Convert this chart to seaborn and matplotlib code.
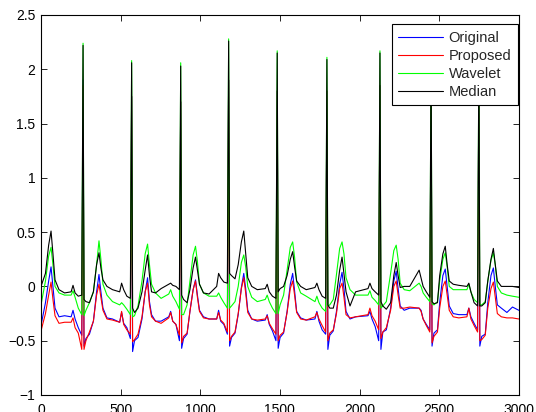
import matplotlib
matplotlib.use("Agg")
import matplotlib.pyplot as plt
import numpy as np
import pandas as pd
import seaborn as sns

# R-peak and T-peak sample positions of the complete beats
R_POS = [264, 569, 877, 1178, 1483, 1795, 2128, 2449, 2749]
T_POS = [364, 669, 970, 1273, 1580, 1890, 2230, 2538, 2840]

# key sample positions of the partial beat at the start and of the end segment
HEAD_X = [0, 28, 48, 63, 75, 88, 113, 148]
TAIL_X = [2960, 3000]

# key-point offsets inside one beat (relative to R, then relative to T)
R_OFFSETS = [-75, -63, -50, -30, -8, 0, 6, 18, 40]
T_OFFSETS = [-35, -15, 0, 12, 25, 50, 85]

SERIES = ["Original", "Proposed", "Wavelet", "Median"]
COLORS = ["#0000ff", "#ff0000", "#00ff00", "#000000"]

# amplitudes at the key points, one row per beat
ORIGINAL_HEAD = [-0.36, -0.15, 0.05, 0.18, 0.0, -0.2, -0.28, -0.27]
ORIGINAL_BEATS = [
    [-0.28, -0.22, -0.30, -0.38, -0.45, 1.90, -0.55, -0.48, -0.44, -0.32, -0.05, 0.11, -0.05, -0.20, -0.29, -0.30],
    [-0.33, -0.24, -0.34, -0.38, -0.48, 1.75, -0.60, -0.50, -0.47, -0.30, -0.05, 0.08, -0.14, -0.26, -0.32, -0.32],
    [-0.28, -0.23, -0.32, -0.35, -0.50, 1.70, -0.57, -0.48, -0.44, -0.23, -0.03, 0.06, -0.08, -0.22, -0.28, -0.30],
    [-0.30, -0.22, -0.32, -0.35, -0.44, 1.90, -0.55, -0.47, -0.43, -0.26, -0.01, 0.12, -0.02, -0.22, -0.30, -0.32],
    [-0.31, -0.26, -0.35, -0.41, -0.50, 1.80, -0.57, -0.47, -0.43, -0.23, 0.02, 0.12, -0.04, -0.23, -0.29, -0.31],
    [-0.30, -0.23, -0.32, -0.40, -0.44, 1.80, -0.58, -0.45, -0.41, -0.23, 0.02, 0.13, -0.02, -0.23, -0.30, -0.28],
    [-0.27, -0.23, -0.30, -0.37, -0.50, 1.85, -0.58, -0.42, -0.40, -0.20, 0.05, 0.14, -0.02, -0.18, -0.22, -0.20],
    [-0.20, -0.22, -0.30, -0.35, -0.40, 1.85, -0.55, -0.43, -0.40, -0.15, 0.10, 0.16, 0.00, -0.18, -0.25, -0.26],
    [-0.26, -0.20, -0.28, -0.34, -0.40, 1.85, -0.55, -0.46, -0.44, -0.15, 0.10, 0.17, 0.00, -0.17, -0.20, -0.24],
]
ORIGINAL_TAIL = [-0.19, -0.22]

PROPOSED_HEAD = [-0.41, -0.25, -0.08, 0.04, -0.12, -0.27, -0.34, -0.33]
PROPOSED_BEATS = [
    [-0.33, -0.29, -0.38, -0.43, -0.58, 1.85, -0.58, -0.50, -0.42, -0.32, -0.08, 0.02, -0.10, -0.22, -0.30, -0.31],
    [-0.33, -0.23, -0.35, -0.40, -0.44, 1.75, -0.51, -0.49, -0.44, -0.28, -0.05, 0.03, -0.17, -0.28, -0.32, -0.34],
    [-0.29, -0.24, -0.32, -0.35, -0.45, 1.70, -0.52, -0.46, -0.43, -0.23, -0.03, 0.05, -0.10, -0.23, -0.29, -0.30],
    [-0.30, -0.24, -0.31, -0.34, -0.42, 1.90, -0.50, -0.46, -0.42, -0.25, -0.02, 0.08, -0.06, -0.24, -0.30, -0.31],
    [-0.30, -0.27, -0.34, -0.39, -0.44, 1.80, -0.50, -0.45, -0.42, -0.24, -0.02, 0.05, -0.08, -0.24, -0.30, -0.31],
    [-0.28, -0.24, -0.30, -0.36, -0.42, 1.80, -0.50, -0.43, -0.40, -0.25, -0.02, 0.03, -0.10, -0.26, -0.29, -0.28],
    [-0.26, -0.20, -0.27, -0.32, -0.40, 1.85, -0.48, -0.42, -0.38, -0.22, 0.00, 0.05, -0.08, -0.20, -0.20, -0.19],
    [-0.20, -0.23, -0.30, -0.36, -0.42, 1.85, -0.52, -0.46, -0.42, -0.20, 0.00, 0.05, -0.08, -0.22, -0.28, -0.29],
    [-0.28, -0.20, -0.30, -0.36, -0.42, 1.85, -0.50, -0.49, -0.45, -0.20, -0.02, 0.04, -0.10, -0.25, -0.28, -0.29],
]
PROPOSED_TAIL = [-0.29, -0.30]

WAVELET_HEAD = [-0.17, 0.05, 0.28, 0.36, 0.20, 0.0, -0.06, -0.08]
WAVELET_BEATS = [
    [-0.08, -0.04, -0.10, -0.20, -0.26, 2.24, -0.27, -0.22, -0.15, -0.05, 0.20, 0.42, 0.25, 0.02, -0.08, -0.14],
    [-0.17, -0.15, -0.17, -0.21, -0.26, 2.08, -0.28, -0.27, -0.18, 0.05, 0.30, 0.39, 0.20, 0.02, -0.06, -0.11],
    [-0.07, -0.03, -0.09, -0.14, -0.21, 2.06, -0.26, -0.26, -0.17, 0.05, 0.29, 0.37, 0.23, 0.02, -0.06, -0.09],
    [-0.09, -0.06, -0.10, -0.15, -0.20, 2.28, -0.20, -0.18, -0.14, 0.00, 0.22, 0.29, 0.18, 0.00, -0.10, -0.14],
    [-0.12, -0.08, -0.14, -0.20, -0.25, 2.17, -0.25, -0.17, -0.08, 0.15, 0.36, 0.41, 0.27, 0.04, -0.06, -0.09],
    [-0.14, -0.09, -0.15, -0.20, -0.23, 2.11, -0.18, -0.17, -0.12, 0.11, 0.35, 0.41, 0.30, 0.08, -0.03, -0.08],
    [-0.08, -0.04, -0.10, -0.13, -0.17, 2.17, -0.20, -0.18, -0.14, 0.12, 0.33, 0.38, 0.25, 0.03, -0.03, -0.04],
    [0.03, 0.00, -0.06, -0.10, -0.14, 2.12, -0.16, -0.17, -0.14, 0.05, 0.25, 0.31, 0.18, 0.00, -0.03, -0.03],
    [-0.03, 0.02, -0.05, -0.12, -0.15, 2.12, -0.17, -0.17, -0.14, 0.05, 0.24, 0.31, 0.20, 0.00, -0.06, -0.08],
]
WAVELET_TAIL = [-0.09, -0.10]

MEDIAN_HEAD = [0.0, 0.12, 0.38, 0.51, 0.30, 0.06, -0.03, -0.06]
MEDIAN_BEATS = [
    [-0.05, 0.01, -0.06, -0.09, -0.08, 2.22, -0.12, -0.14, -0.15, -0.05, 0.20, 0.31, 0.17, 0.06, 0.00, -0.03],
    [-0.05, 0.03, -0.03, -0.09, -0.11, 2.06, -0.20, -0.24, -0.20, -0.05, 0.15, 0.29, 0.10, -0.05, -0.06, -0.02],
    [0.02, 0.03, 0.01, 0.00, -0.03, 2.03, -0.08, -0.12, -0.15, -0.03, 0.17, 0.27, 0.15, 0.02, -0.06, -0.07],
    [0.00, 0.12, 0.08, 0.04, 0.03, 2.26, 0.12, 0.10, 0.07, 0.20, 0.41, 0.51, 0.30, 0.08, 0.00, -0.03],
    [-0.02, 0.02, -0.05, -0.09, -0.11, 2.15, -0.05, -0.02, 0.00, 0.10, 0.25, 0.32, 0.18, 0.05, 0.00, -0.03],
    [-0.01, 0.03, -0.03, -0.09, -0.11, 2.09, -0.17, -0.20, -0.20, -0.08, 0.15, 0.27, 0.12, -0.05, -0.18, -0.05],
    [-0.02, 0.03, -0.02, -0.05, -0.08, 2.15, -0.14, -0.18, -0.21, -0.15, 0.10, 0.22, 0.10, -0.01, 0.00, 0.00],
    [0.15, 0.08, 0.00, -0.05, -0.10, 2.10, -0.14, -0.16, -0.15, 0.10, 0.30, 0.37, 0.20, 0.05, 0.02, 0.01],
    [0.00, 0.03, -0.05, -0.15, -0.18, 2.10, -0.18, -0.18, -0.15, 0.05, 0.25, 0.35, 0.20, 0.05, 0.00, 0.00],
]
MEDIAN_TAIL = [0.0, -0.01]

X_TICKS = [0, 500, 1000, 1500, 2000, 2500, 3000]
Y_TICKS = [-1, -0.5, 0, 0.5, 1, 1.5, 2, 2.5]
Y_TICK_LABELS = ["\u22121", "\u22120.5", "0", "0.5", "1", "1.5", "2", "2.5"]


def key_positions():
    xs = list(HEAD_X)
    for r, t in zip(R_POS, T_POS):
        xs += [r + o for o in R_OFFSETS] + [t + o for o in T_OFFSETS]
    xs += TAIL_X
    return xs


def series_values(head, beats, tail):
    vals = list(head)
    for row in beats:
        vals += row
    vals += tail
    return vals


positions = key_positions()
frames = []
for name, (head, beats, tail) in zip(SERIES, [
    (ORIGINAL_HEAD, ORIGINAL_BEATS, ORIGINAL_TAIL),
    (PROPOSED_HEAD, PROPOSED_BEATS, PROPOSED_TAIL),
    (WAVELET_HEAD, WAVELET_BEATS, WAVELET_TAIL),
    (MEDIAN_HEAD, MEDIAN_BEATS, MEDIAN_TAIL),
]):
    frames.append(pd.DataFrame({"sample": positions,
                                "amplitude": series_values(head, beats, tail),
                                "series": name}))
df = pd.concat(frames, ignore_index=True)

sns.set_style("ticks")
plt.rcParams["font.family"] = ["Liberation Sans", "DejaVu Sans"]

fig = plt.figure(figsize=(5.36, 4.12), dpi=100)
ax = fig.add_axes([0.0765, 0.0413, 0.8915, 0.9223])

sns.lineplot(data=df, x="sample", y="amplitude", hue="series",
             hue_order=SERIES, palette=COLORS, estimator=None, sort=False,
             linewidth=0.8, ax=ax)

ax.set_xlim(0, 3000)
ax.set_ylim(-1, 2.5)
ax.set_xticks(X_TICKS)
ax.set_xticklabels([str(t) for t in X_TICKS])
ax.set_yticks(Y_TICKS)
ax.set_yticklabels(Y_TICK_LABELS)
ax.set_xlabel("")
ax.set_ylabel("")
ax.tick_params(direction="in", top=True, right=True, length=4, width=0.6,
               labelsize=10, colors="black")
ax.tick_params(axis="x", pad=5.5)
ax.tick_params(axis="y", pad=4)
for sp in ax.spines.values():
    sp.set_visible(True)
    sp.set_color("black")
    sp.set_linewidth(0.8)

handles, labels = ax.get_legend_handles_labels()
leg = ax.legend(handles, labels, loc="upper right", bbox_to_anchor=(0.998, 0.976),
                borderaxespad=0, fancybox=False, edgecolor="black", framealpha=1,
                fontsize=10.5, handlelength=3.1, handletextpad=0.35,
                labelspacing=0.28, borderpad=0.45)
leg.get_frame().set_linewidth(0.8)

fig.savefig("out.png", dpi=100)
